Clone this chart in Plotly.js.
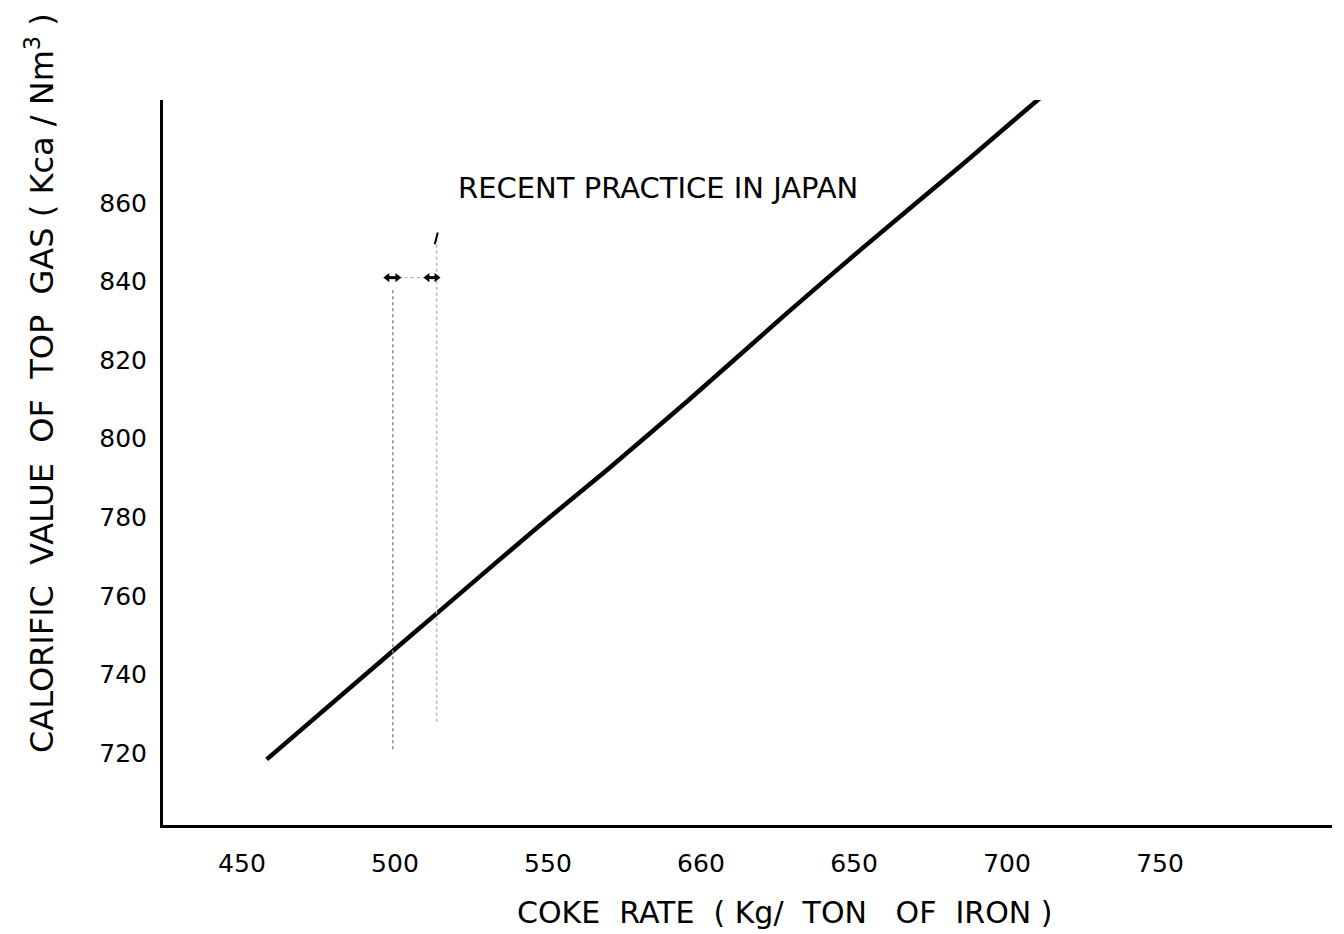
<!DOCTYPE html>
<html>
<head>
<meta charset="utf-8">
<script src="https://cdn.plot.ly/plotly-3.0.1.min.js"></script>
<style>
  html, body { margin: 0; padding: 0; background: #fff; }
  #chart { width: 1344px; height: 934px; }
</style>
</head>
<body>
<div id="chart"></div>
<script>
// Coke rate vs. calorific value of blast-furnace top gas
const cokeRate = [458.1, 499.3, 513.6, 547.4, 569.2, 595.9, 628.0, 652.0, 685.7, 710.6];
const calorificValue = [718.4, 746.0, 755.5, 778.0, 792.0, 809.8, 831.9, 848.0, 870.0, 886.6];

// Axis ticks (the printed scale reads "660" at the 600 position)
const xTickVals = [450, 500, 550, 600, 650, 700, 750];
const xTickText = ["450", "500", "550", "660", "650", "700", "750"];
const yTickVals = [720, 740, 760, 780, 800, 820, 840, 860];

// "Recent practice in Japan" band
const practiceBand = [499.3, 513.6];
const bandTop = [838, 851];
const bandBottom = [721, 728];
const bandArrowY = 841;

const font = "DejaVu Sans, sans-serif";

const traces = [
  {
    x: cokeRate, y: calorificValue, mode: "lines", type: "scatter",
    line: { color: "#000", width: 4.5, shape: "spline", smoothing: 0.6 },
    cliponaxis: false, hoverinfo: "skip"
  },
  {
    x: [practiceBand[0], practiceBand[0]], y: [bandBottom[0], bandTop[0]],
    mode: "lines", line: { color: "#8a8a8a", width: 1.5, dash: "dot" }
  },
  {
    x: [practiceBand[1], practiceBand[1]], y: [bandBottom[1], bandTop[1]],
    mode: "lines", line: { color: "#b5b5b5", width: 1.5, dash: "dot" }
  },
  {
    x: practiceBand, y: [bandArrowY, bandArrowY],
    mode: "lines", line: { color: "#aaa", width: 1, dash: "dot" }
  },
  {
    x: [practiceBand[0] - 1.8, practiceBand[0] + 1.5], y: [bandArrowY, bandArrowY],
    mode: "lines+markers", line: { color: "#000", width: 3 },
    marker: { symbol: ["triangle-left", "triangle-right"], size: 8, color: "#000" }
  },
  {
    x: [practiceBand[1] - 3, practiceBand[1]], y: [bandArrowY, bandArrowY],
    mode: "lines+markers", line: { color: "#000", width: 3 },
    marker: { symbol: ["triangle-left", "triangle-right"], size: 8, color: "#000" }
  }
];

const layout = {
  width: 1344, height: 934,
  paper_bgcolor: "#fff", plot_bgcolor: "#fff",
  showlegend: false,
  margin: { l: 163, r: 12, t: 100, b: 109 },
  font: { family: font, color: "#000" },
  xaxis: {
    range: [424.2, 806.2],
    tickvals: xTickVals, ticktext: xTickText,
    showgrid: false, zeroline: false,
    showline: true, linecolor: "#000", linewidth: 3,
    ticks: "", ticklabelstandoff: 14,
    tickfont: { family: font, size: 25, color: "#000" }
  },
  yaxis: {
    range: [701.7, 886.2],
    tickvals: yTickVals,
    showgrid: false, zeroline: false,
    showline: true, linecolor: "#000", linewidth: 3,
    ticks: "", ticklabelstandoff: 8,
    tickfont: { family: font, size: 25, color: "#000" }
  },
  annotations: [
    {
      x: 520, y: 863.8, xref: "x", yref: "y", xanchor: "left", yanchor: "middle",
      text: "RECENT PRACTICE IN JAPAN", showarrow: false,
      font: { family: font, size: 29, color: "#000" }
    },
    {
      // x-axis title
      x: (785 - 163) / 1169, y: -(912 - 825) / 725, xref: "paper", yref: "paper",
      xanchor: "center", yanchor: "middle",
      text: "COKE  RATE  ( Kg/  TON   OF  IRON )", showarrow: false,
      font: { family: font, size: 30, color: "#000" }
    },
    {
      // y-axis title
      x: (40 - 163) / 1169, y: (825 - 383) / 725, xref: "paper", yref: "paper",
      xanchor: "center", yanchor: "middle", textangle: -90,
      text: "CALORIFIC  VALUE  OF  TOP  GAS ( Kca / Nm<sup>3</sup> )", showarrow: false,
      font: { family: font, size: 32, color: "#000" }
    }
  ],
  shapes: [
    {
      type: "line", xref: "x", yref: "y",
      x0: 513, y0: 849.5, x1: 514, y1: 852.5,
      line: { color: "#000", width: 2 }
    }
  ]
};

Plotly.newPlot("chart", traces, layout, { displayModeBar: false, staticPlot: true });
</script>
</body>
</html>
